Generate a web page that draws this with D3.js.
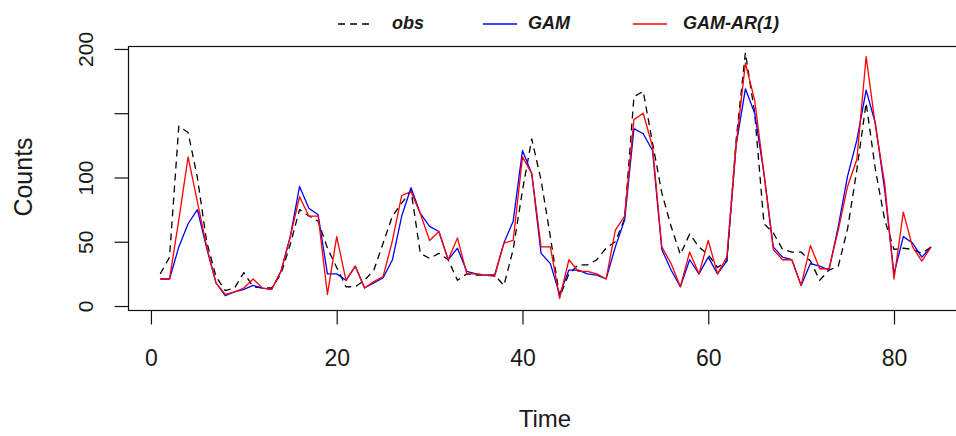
<!DOCTYPE html>
<html>
<head>
<meta charset="utf-8">
<script src="https://cdn.jsdelivr.net/npm/d3@7"></script>
<style>
  html, body { margin: 0; padding: 0; background: #fff; }
  svg { display: block; }
  text { font-family: "Liberation Sans", Arial, sans-serif; fill: #1a1a1a; }
</style>
</head>
<body>
<svg id="chart" width="956" height="436"></svg>
<script>
// Observed weekly counts and the two model fits, one value per time step (1..84)
const obs = [25, 38, 140, 135, 100, 50, 23, 12, 14, 26, 15, 14, 14, 25, 48, 75, 70, 66, 45, 30,
             15, 15, 20, 28, 49, 70, 80, 90, 41, 37, 41, 36, 20, 25, 24, 24, 24, 16, 44, 90,
             130, 98, 54, 7, 25, 32, 32, 36, 45, 50, 68, 163, 167, 127, 88, 62, 40, 56, 46, 40,
             30, 35, 129, 197, 150, 64, 57, 44, 42, 42, 35, 20, 28, 31, 60, 106, 158, 106, 67, 44,
             45, 44, 41, 46];
const gam = [21, 21, 46, 64, 75, 45, 18, 8, 11, 13, 16, 14, 13, 27, 54, 93, 76, 71, 25, 25,
             20, 31, 14, 18, 22, 36, 70, 92, 72, 62, 58, 36, 45, 27, 25, 24, 24, 49, 66, 121,
             103, 41, 33, 9, 28, 28, 25, 24, 21, 46, 67, 138, 134, 121, 44, 28, 15, 36, 25, 38,
             25, 35, 125, 169, 150, 103, 46, 38, 36, 16, 33, 31, 28, 62, 101, 129, 168, 142, 90, 25,
             54, 49, 38, 46];
const gamAR = [21, 21, 67, 116, 81, 46, 18, 9, 11, 14, 21, 14, 13, 27, 54, 85, 70, 70, 9, 54,
               20, 31, 14, 19, 23, 51, 86, 89, 72, 51, 58, 36, 53, 25, 25, 24, 23, 49, 51, 116,
               103, 46, 46, 6, 36, 27, 27, 25, 21, 59, 70, 145, 150, 124, 46, 33, 15, 42, 25, 51,
               25, 38, 125, 189, 160, 103, 44, 36, 36, 16, 47, 29, 29, 59, 93, 114, 194, 140, 95, 21,
               73, 46, 35, 46];

const xTicks = [0, 20, 40, 60, 80];
const yTicks = [0, 50, 100, 150, 200];
const yTickLabels = ["0", "50", "100", "", "200"];   // 150 label is dropped (would overlap)
const seriesNames = ["obs", "GAM", "GAM-AR(1)"];
const seriesColors = ["#000000", "#0000ff", "#ff0000"];
const xTitle = "Time";
const yTitle = "Counts";

const svg = d3.select("#chart");

// Plot region: R-style 4% padding around the data range
const n = obs.length;
const xPad = (n - 1) * 0.04;
const x = d3.scaleLinear().domain([1 - xPad, n + xPad]).range([129.4, 962]);
const y = d3.scaleLinear().domain([-3.1, 202.3]).range([310, 46]);

const plotLeft = x.range()[0], plotRight = x.range()[1];
const plotTop = y.range()[1], plotBottom = y.range()[0];

// Series lines: observed (dashed) first, then the model fits on top
const line = d3.line().x((d, i) => x(i + 1)).y(d => y(d));
const series = [obs, gam, gamAR];
const dashes = ["7,5", null, null];
series.forEach((s, k) => {
  svg.append("path")
    .datum(s)
    .attr("d", line)
    .attr("fill", "none")
    .attr("stroke", seriesColors[k])
    .attr("stroke-width", 1.3)
    .attr("stroke-linejoin", "round")
    .attr("stroke-dasharray", dashes[k]);
});

// Plot frame
svg.append("rect")
  .attr("x", Math.round(plotLeft) - 0.5)
  .attr("y", Math.round(plotTop) + 0.5)
  .attr("width", Math.round(plotRight) - Math.round(plotLeft))
  .attr("height", Math.round(plotBottom) - Math.round(plotTop))
  .attr("fill", "none")
  .attr("stroke", "#111")
  .attr("stroke-width", 1.2);

// Bottom axis
const xAxis = svg.append("g")
  .attr("transform", `translate(0,${Math.round(plotBottom) + 0.5})`)
  .call(d3.axisBottom(x).tickValues(xTicks).tickSize(14).tickFormat(d3.format("d")));
xAxis.select(".domain").remove();
xAxis.selectAll(".tick line").attr("stroke", "#111").attr("stroke-width", 1.2);
xAxis.selectAll(".tick text")
  .attr("y", 55.5).attr("dy", null)
  .attr("font-size", 23)
  .attr("fill", "#1a1a1a");

// Left axis with labels parallel to the axis
const yAxis = svg.append("g")
  .attr("transform", `translate(${Math.round(plotLeft) - 0.5},0)`)
  .call(d3.axisLeft(y).tickValues(yTicks).tickSize(14).tickFormat((d, i) => yTickLabels[i]));
yAxis.select(".domain").remove();
yAxis.selectAll(".tick line").attr("stroke", "#111").attr("stroke-width", 1.2);
yAxis.selectAll(".tick text")
  .attr("x", null)
  .attr("text-anchor", "middle")
  .attr("transform", "translate(-43,0) rotate(-90)")
  .attr("dy", "0.36em")
  .attr("font-size", 21)
  .attr("fill", "#1a1a1a");

// Axis titles
svg.append("text")
  .attr("x", 545)
  .attr("y", 418)
  .attr("dy", "0.36em")
  .attr("text-anchor", "middle")
  .attr("font-size", 24)
  .text(xTitle);

svg.append("text")
  .attr("transform", "translate(23,177) rotate(-90)")
  .attr("dy", "0.36em")
  .attr("text-anchor", "middle")
  .attr("font-size", 25)
  .text(yTitle);

// Legend above the plot
const legendX = [338, 483, 633];
const legendTextX = [392, 528, 683];
const legendLen = 34;
const legendY = 24;
const legend = svg.append("g");
seriesNames.forEach((name, k) => {
  legend.append("line")
    .attr("x1", legendX[k]).attr("x2", legendX[k] + legendLen)
    .attr("y1", legendY).attr("y2", legendY)
    .attr("stroke", seriesColors[k])
    .attr("stroke-width", 1.3)
    .attr("stroke-dasharray", dashes[k]);
  legend.append("text")
    .attr("x", legendTextX[k])
    .attr("y", legendY)
    .attr("dy", "0.3em")
    .attr("font-size", 18)
    .attr("font-weight", "bold")
    .attr("font-style", "italic")
    .attr("fill", "#2a2a2a")
    .text(name);
});
</script>
</body>
</html>
